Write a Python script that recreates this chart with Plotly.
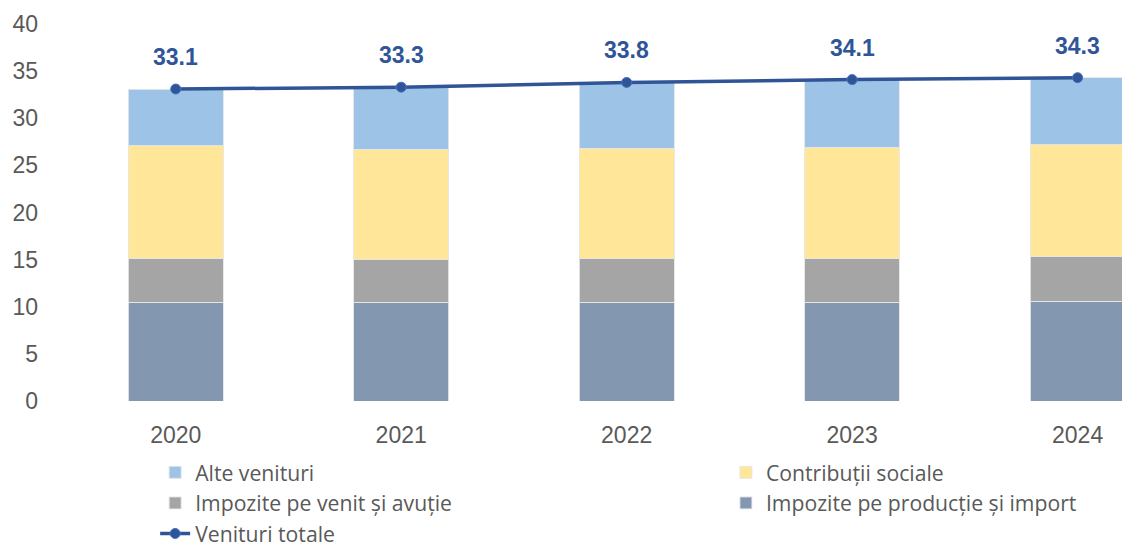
import plotly.graph_objects as go

years = ["2020", "2021", "2022", "2023", "2024"]
impozite_productie = [10.5, 10.5, 10.5, 10.5, 10.6]
impozite_venit = [4.6, 4.5, 4.6, 4.6, 4.7]
contributii = [12.0, 11.7, 11.7, 11.8, 11.9]
alte_venituri = [6.0, 6.6, 7.0, 7.2, 7.1]
venituri_totale = [33.1, 33.3, 33.8, 34.1, 34.3]

FONT = "Liberation Sans"
LEG_FONT = "Open Sans"
TXT = "#595959"
LINE = "#2F5597"

fig = go.Figure()
bar_line = dict(color="rgba(230,230,230,0.9)", width=1)
fig.add_bar(x=years, y=impozite_productie, name="Impozite pe producție și import",
            marker=dict(color="#8497B0", line=bar_line), legend="legend2", legendrank=4)
fig.add_bar(x=years, y=impozite_venit, name="Impozite pe venit și avuție",
            marker=dict(color="#A5A5A5", line=bar_line), legend="legend", legendrank=2)
fig.add_bar(x=years, y=contributii, name="Contribuții sociale",
            marker=dict(color="#FFE699", line=bar_line), legend="legend2", legendrank=3)
fig.add_bar(x=years, y=alte_venituri, name="Alte venituri",
            marker=dict(color="#9DC3E6", line=bar_line), legend="legend", legendrank=1)
fig.add_scatter(x=years, y=venituri_totale, name="Venituri totale", mode="lines+markers",
                line=dict(color=LINE, width=3.5),
                marker=dict(size=10, color=LINE, line=dict(color="#4472C4", width=1)),
                legend="legend", legendrank=5)

for i, v in enumerate(venituri_totale):
    fig.add_annotation(x=i, y=v, xref="x", yref="y", text=f"{v:.1f}", showarrow=False,
                       yshift=32, font=dict(family=FONT, size=23, color=LINE, weight="bold"))

legend_common = dict(orientation="v", yanchor="top", xanchor="left",
                     font=dict(family=LEG_FONT, size=21.2, color=TXT),
                     bgcolor="rgba(0,0,0,0)", traceorder="normal", tracegroupgap=0)

fig.update_layout(
    width=1122, height=548,
    barmode="stack", bargap=0.58,
    plot_bgcolor="white", paper_bgcolor="white",
    margin=dict(l=63, r=0, t=24, b=147, autoexpand=False),
    font=dict(family=FONT, color=TXT),
    xaxis=dict(type="category", range=[-0.5, 4.197], showgrid=False, showline=False,
               zeroline=False, tickfont=dict(family=FONT, size=23, color=TXT),
               ticklabelstandoff=18),
    yaxis=dict(range=[0, 40], dtick=5, showgrid=False, showline=False, zeroline=False,
               tickfont=dict(family=FONT, size=23, color=TXT), ticklabelstandoff=24),
    legend=dict(x=0.087, y=-0.1355, **legend_common),
    legend2=dict(x=0.626, y=-0.1355, **legend_common),
)

fig.write_html("out.html", config={"displayModeBar": False},
               post_script="document.body.style.margin='0';document.body.style.overflow='hidden';")
